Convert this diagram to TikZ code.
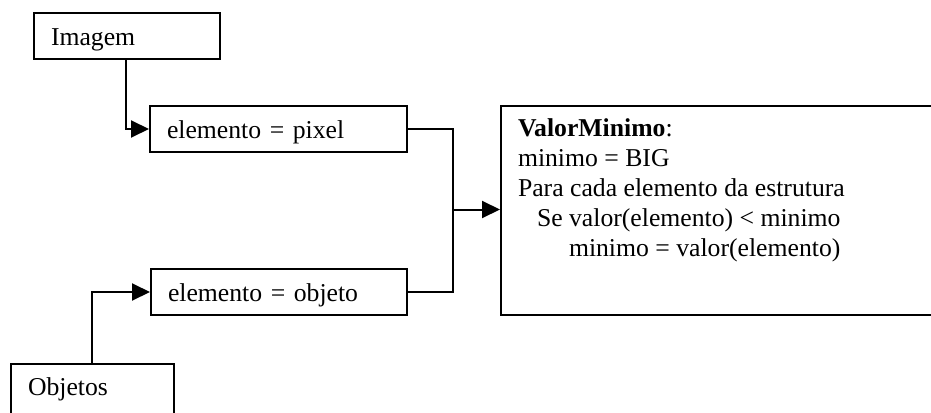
\documentclass[tikz,border=0pt]{standalone}
\usepackage{fontspec}
\setmainfont{Liberation Serif}
\usetikzlibrary{arrows.meta}
\tikzset{
  box/.style={draw, line width=1pt, inner xsep=8.5pt, inner ysep=0pt,
    text height=16pt, text depth=7pt, align=left, anchor=north west},
  conn/.style={line width=1pt},
  arr/.style={conn, -{Triangle[length=9pt,width=8.5pt]}}
}
\begin{document}
\begin{tikzpicture}[x=0.5pt,y=-0.5pt,font=\fontsize{12.85pt}{15.1pt}\selectfont]
\useasboundingbox (0,0) rectangle (931,412);
\fill[white] (0,0) rectangle (931,412);
\clip (0,0) rectangle (931,412);
\node[box, text width=76pt] (img) at (33,12) {Imagem};
\node[box, text width=111.5pt] (pix) at (149,105) {elemento = pixel};
\node[box, text width=111pt] (objt) at (150,268) {elemento = objeto};
\node[box, text width=64.5pt, text height=15.5pt, text depth=30pt] (obj) at (10,363) {Objetos};
\node[draw, line width=1pt, inner xsep=8.5pt, inner ysep=0pt, anchor=north west] (valor) at (500,105)
  {\parbox[t][104.5pt][t]{203pt}{\rule{0pt}{15pt}\textbf{ValorMinimo}:\\
  minimo = BIG\\
  Para cada elemento da estrutura\\
  \hspace*{9.5pt}Se valor(elemento) < minimo\\
  \hspace*{25.5pt}minimo = valor(elemento)}};
\coordinate (j) at (453,209.5);
\draw[arr] ([xshift=46.5pt]img.south west) |- (pix.west);
\draw[arr] ([xshift=41pt]obj.north west) |- (objt.west);
\draw[conn] (pix.east) -| (j) |- (objt.east);
\draw[arr] (j) -- (valor.west |- j);
\end{tikzpicture}
\end{document}
